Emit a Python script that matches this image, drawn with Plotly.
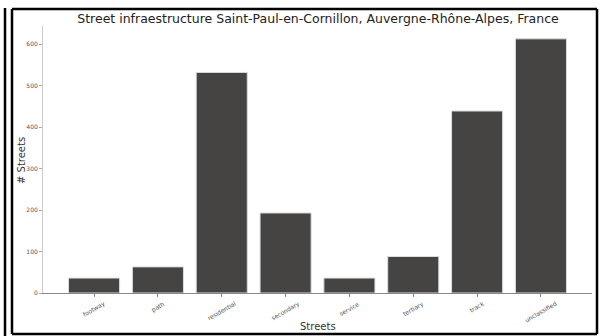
import plotly.graph_objects as go

streets = ["footway", "path", "residential", "secondary", "service",
           "tertiary", "track", "unclassified"]
counts = [36, 63, 532, 193, 36, 88, 439, 613]
y_ticks = [0, 100, 200, 300, 400, 500, 600]

W, H = 600, 336
L, R, T, B = 43, 8, 26, 43
pw, ph = W - L - R, H - T - B


def px(x):
    return (x - L) / pw


def py(y):
    return (H - B - y) / ph


fig = go.Figure(go.Bar(
    x=list(range(len(streets))), y=counts, width=0.8,
    marker=dict(color="#464442", line=dict(color="#dcdcdc", width=1)),
))

fig.update_layout(
    width=W, height=H, plot_bgcolor="white", paper_bgcolor="white",
    margin=dict(l=L, r=R, t=T, b=B, autoexpand=False), showlegend=False,
    font=dict(family="DejaVu Sans", color="#333"),
    title=dict(text="Street infraestructure Saint-Paul-en-Cornillon, Auvergne-Rhône-Alpes, France",
               x=318 / W, xanchor="center", y=1 - 19 / H, yanchor="middle",
               font=dict(size=12.5, color="#222")),
)
fig.update_xaxes(range=[-0.8, 7.8], tickvals=list(range(len(streets))), showticklabels=False,
                 automargin=False, showline=True, linecolor="#888", linewidth=1,
                 showgrid=False, ticks="outside", ticklen=3, tickcolor="#888", zeroline=False)
fig.update_yaxes(range=[0, 644], tickvals=y_ticks,
                 tickfont=dict(size=6, color="#555"), automargin=False,
                 showline=True, linecolor="#cccccc", linewidth=1, showgrid=False,
                 ticks="outside", ticklen=3, tickcolor="#aaa", zeroline=False)

# rotated category labels centred under each tick (matplotlib style)
for i, name in enumerate(streets):
    fig.add_annotation(text=name, xref="x", yref="paper", x=i, y=py(297),
                       xanchor="center", yanchor="top", textangle=-30,
                       showarrow=False, font=dict(size=6, color="#555"))

# axis titles placed by hand
fig.add_annotation(text="Streets", xref="paper", yref="paper", x=px(318), y=py(326),
                   xanchor="center", yanchor="middle",
                   showarrow=False, font=dict(size=10, color="#333"))
fig.add_annotation(text="# Streets", xref="paper", yref="paper", x=px(21), y=py(161),
                   xanchor="center", yanchor="middle",
                   textangle=-90, showarrow=False, font=dict(size=10, color="#333"))

# black frame around the picture, like the screenshot (one line per side)
frame = [(12, 9, 597, 9), (12, 9, 12, 334), (597, 9, 597, 334), (12, 334, 597, 334),
         (5, 8, 5, 336)]
for x0, y0, x1, y1 in frame:
    fig.add_shape(type="line", xref="paper", yref="paper",
                  x0=px(x0), x1=px(x1), y0=py(y0), y1=py(y1),
                  line=dict(color="black", width=2.5))

# page body has a default margin; drop it so the figure sits at the corner
fig.write_html("out.html", config={"displayModeBar": False},
               post_script="document.body.style.margin='0';")
